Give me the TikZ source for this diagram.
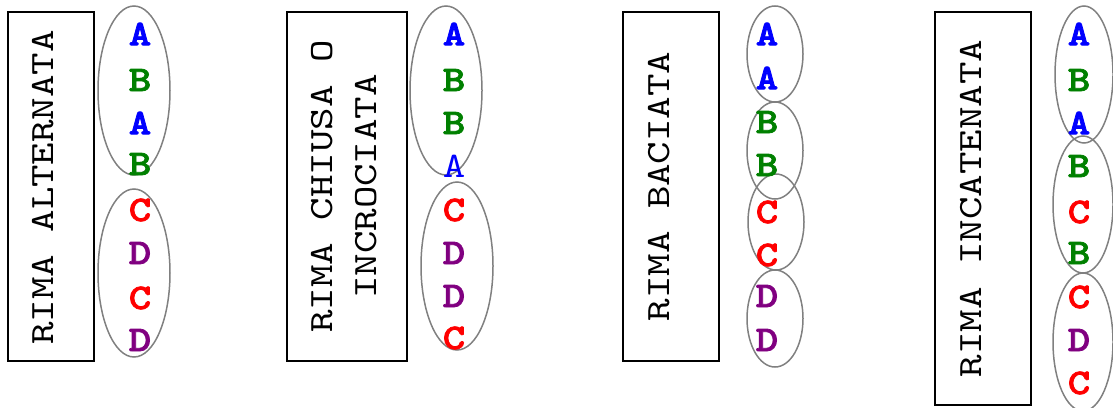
\documentclass[tikz,border=0pt]{standalone}
\usepackage{fontspec}
\newfontfamily\ttreg[FakeStretch=1.26]{lmmono10-regular.otf}
\newfontfamily\ttthin[FakeStretch=1.19]{lmmono10-regular.otf}
\newfontfamily\ttbld[FakeStretch=1.19,FakeBold=2.2]{lmmonolt10-bold.otf}
\usetikzlibrary{shapes.geometric}
\definecolor{cA}{RGB}{0,0,255}
\definecolor{cB}{RGB}{0,128,0}
\definecolor{cC}{RGB}{255,0,0}
\definecolor{cD}{RGB}{128,0,128}
\definecolor{grp}{RGB}{128,128,128}
\tikzset{
  titlebox/.style={draw=black,line width=2pt},
  titletext/.style={rotate=90,inner sep=0pt,align=center,font=\fontsize{34}{44}\selectfont\ttreg},
  grpell/.style={ellipse,draw=grp,line width=1.5pt,inner sep=0pt},
  lt/.style={inner sep=0pt,font=\fontsize{36}{44}\selectfont\ttbld},
  ltr/.style={inner sep=0pt,font=\fontsize{36}{44}\selectfont\ttthin},
}
\begin{document}
\begin{tikzpicture}[x=1pt,y=-1pt]
\useasboundingbox (0,0) rectangle (1113,407);
% Panel 1
\node[titlebox,minimum width=86pt,minimum height=349pt] (r1) at (51,186.5) {};
\node[titletext] (t1) at (43.5,187.5) {RIMA ALTERNATA};
\node[grpell,minimum width=72pt,minimum height=169pt] (e11) at (134,90.5) {};
\node[grpell,minimum width=72pt,minimum height=168pt] (e12) at (134,273) {};
\node[lt,text=cA] (p1a) at (140,34) {A};
\node[lt,text=cB] (p1b) at (140,80) {B};
\node[lt,text=cA] (p1c) at (140,123) {A};
\node[lt,text=cB] (p1d) at (140,164) {B};
\node[lt,text=cC] (p1e) at (140,210) {C};
\node[lt,text=cD] (p1f) at (140,253) {D};
\node[lt,text=cC] (p1g) at (140,298) {C};
\node[lt,text=cD] (p1h) at (140,340) {D};
% Panel 2
\node[titlebox,minimum width=120pt,minimum height=349pt] (r2) at (347,186.5) {};
\node[titletext] (t2) at (344.5,186.5) {RIMA CHIUSA O\\INCROCIATA};
\node[grpell,minimum width=72pt,minimum height=169pt] (e21) at (446,90.5) {};
\node[grpell,minimum width=72pt,minimum height=168pt] (e22) at (457,266) {};
\node[lt,text=cA] (p2a) at (454,34) {A};
\node[lt,text=cB] (p2b) at (454,80) {B};
\node[lt,text=cB] (p2c) at (454,123) {B};
\node[ltr,text=cA] (p2d) at (454,166) {A};
\node[lt,text=cC] (p2e) at (454,210) {C};
\node[lt,text=cD] (p2f) at (454,253) {D};
\node[lt,text=cD] (p2g) at (454,296) {D};
\node[lt,text=cC] (p2h) at (454,338) {C};
% Panel 3
\node[titlebox,minimum width=96pt,minimum height=349pt] (r3) at (671,186.5) {};
\node[titletext] (t3) at (659.5,186.5) {RIMA BACIATA};
\node[grpell,minimum width=56pt,minimum height=96pt] (e31) at (775,54) {};
\node[grpell,minimum width=56pt,minimum height=97pt] (e32) at (775,150.5) {};
\node[grpell,minimum width=56pt,minimum height=96pt] (e33) at (776,222) {};
\node[grpell,minimum width=56pt,minimum height=97pt] (e34) at (775,318.5) {};
\node[lt,text=cA] (p3a) at (767,34) {A};
\node[lt,text=cA] (p3b) at (767,78) {A};
\node[lt,text=cB] (p3c) at (767,122) {B};
\node[lt,text=cB] (p3d) at (767,165) {B};
\node[lt,text=cC] (p3e) at (767,212) {C};
\node[lt,text=cC] (p3f) at (767,255) {C};
\node[lt,text=cD] (p3g) at (767,296) {D};
\node[lt,text=cD] (p3h) at (767,340) {D};
% Panel 4
\node[titlebox,minimum width=96pt,minimum height=393pt] (r4) at (983,208.5) {};
\node[titletext] (t4) at (971,208.5) {RIMA INCATENATA};
\node[grpell,minimum width=58pt,minimum height=137pt] (e41) at (1084,74.5) {};
\node[grpell,minimum width=60pt,minimum height=137pt] (e42) at (1083,204.5) {};
\node[grpell,minimum width=60pt,minimum height=138pt] (e43) at (1083,342) {};
\node[lt,text=cA] (p4a) at (1079,34) {A};
\node[lt,text=cB] (p4b) at (1079,80) {B};
\node[lt,text=cA] (p4c) at (1079,123) {A};
\node[lt,text=cB] (p4d) at (1079,166) {B};
\node[lt,text=cC] (p4e) at (1079,212) {C};
\node[lt,text=cB] (p4f) at (1079,253) {B};
\node[lt,text=cC] (p4g) at (1079,297) {C};
\node[lt,text=cD] (p4h) at (1079,340) {D};
\node[lt,text=cC] (p4i) at (1079,383) {C};
\end{tikzpicture}
\end{document}
